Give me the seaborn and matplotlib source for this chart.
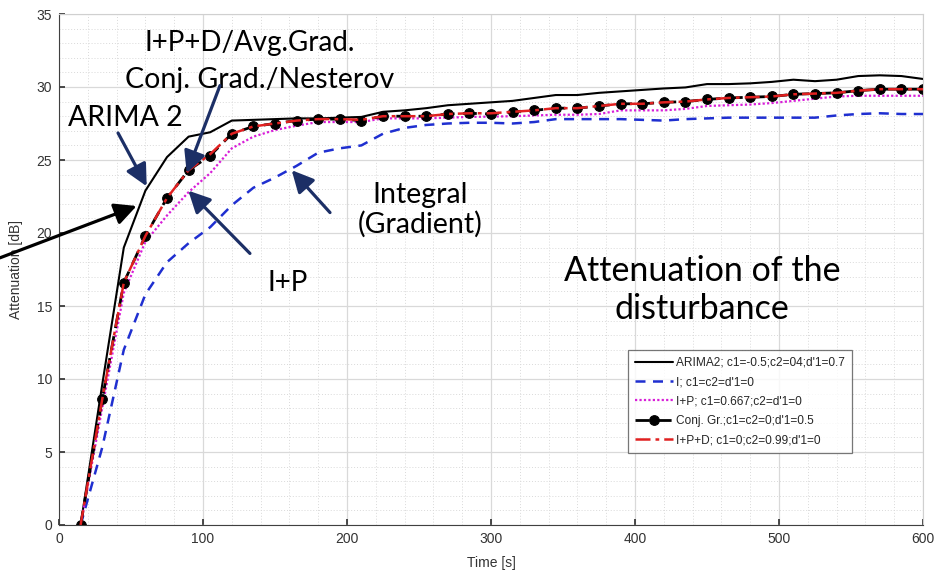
import numpy as np
import pandas as pd
import matplotlib
matplotlib.use("Agg")
import matplotlib.pyplot as plt
import seaborn as sns
from matplotlib.ticker import MultipleLocator

# ---- data ----
time_s = list(range(15, 601, 15))

arima2 = [0, 9.6, 19.0, 22.9, 25.2, 26.6, 26.9, 27.7, 27.75, 27.8,
          27.85, 27.85, 27.9, 27.95, 28.3, 28.4, 28.55, 28.75, 28.85, 28.95,
          29.05, 29.25, 29.45, 29.45, 29.6, 29.7, 29.8, 29.9, 29.97, 30.2,
          30.2, 30.25, 30.35, 30.5, 30.4, 30.5, 30.75, 30.8, 30.75, 30.55]

integral = [0, 5.3, 12.0, 15.8, 18.0, 19.3, 20.4, 21.9, 23.1, 23.8,
            24.6, 25.5, 25.8, 26.0, 26.8, 27.2, 27.4, 27.5, 27.55, 27.55,
            27.5, 27.6, 27.8, 27.8, 27.8, 27.8, 27.75, 27.7, 27.8, 27.85,
            27.9, 27.9, 27.9, 27.9, 27.9, 28.05, 28.15, 28.2, 28.15, 28.15]

ip = [0, 8.0, 15.9, 19.4, 21.2, 22.8, 24.1, 25.8, 26.6, 27.05,
      27.35, 27.6, 27.6, 27.6, 27.85, 27.85, 27.85, 27.9, 27.95, 27.97,
      28.0, 28.05, 28.1, 28.1, 28.15, 28.4, 28.4, 28.4, 28.5, 28.7,
      28.75, 28.8, 28.9, 29.05, 29.2, 29.35, 29.4, 29.4, 29.4, 29.4]

conj_gr = [0, 8.6, 16.6, 19.8, 22.4, 24.3, 25.3, 26.8, 27.3, 27.5,
           27.7, 27.8, 27.8, 27.7, 28.0, 28.0, 28.0, 28.15, 28.2, 28.15,
           28.3, 28.4, 28.55, 28.55, 28.7, 28.85, 28.85, 28.95, 29.0, 29.15,
           29.25, 29.3, 29.35, 29.5, 29.55, 29.6, 29.75, 29.85, 29.85, 29.85]

ipd = [0, 8.6, 16.6, 19.8, 22.4, 24.3, 25.4, 26.8, 27.3, 27.5,
       27.7, 27.8, 27.8, 27.75, 28.0, 28.0, 28.0, 28.15, 28.2, 28.2,
       28.3, 28.4, 28.55, 28.55, 28.7, 28.85, 28.85, 28.95, 29.0, 29.15,
       29.25, 29.3, 29.35, 29.5, 29.55, 29.6, 29.75, 29.85, 29.85, 29.85]

labels = ["ARIMA2; c1=-0.5;c2=04;d'1=0.7",
          "I; c1=c2=d'1=0",
          "I+P; c1=0.667;c2=d'1=0",
          "Conj. Gr.;c1=c2=0;d'1=0.5",
          "I+P+D; c1=0;c2=0.99;d'1=0"]

x_ticks = [0, 100, 200, 300, 400, 500, 600]
y_ticks = [0, 5, 10, 15, 20, 25, 30, 35]

# ---- figure ----
sns.set_theme(style="white")
plt.rcParams['font.family'] = ['Liberation Sans', 'DejaVu Sans']

fig = plt.figure(figsize=(9.43, 5.76), dpi=100)
ax = fig.add_axes([59/943, 1-525/576, 864/943, 511/576])

sns.lineplot(x=time_s, y=arima2, ax=ax, color="black", linewidth=1.5,
             linestyle="-", label=labels[0])
sns.lineplot(x=time_s, y=integral, ax=ax, color="#1f2fd0", linewidth=1.8,
             linestyle=(0, (4, 3)), label=labels[1])
sns.lineplot(x=time_s, y=ip, ax=ax, color="#d81ed8", linewidth=1.6,
             linestyle=(0, (1, 1)), label=labels[2])
sns.lineplot(x=time_s, y=conj_gr, ax=ax, color="black", linewidth=2.0,
             linestyle=(0, (5, 3)), marker="o", markersize=7,
             markeredgecolor="black", label=labels[3])
sns.lineplot(x=time_s, y=ipd, ax=ax, color="#e02020", linewidth=1.8,
             linestyle=(0, (6, 2, 1.5, 2)), label=labels[4])

ax.set_xlim(0, 600)
ax.set_ylim(0, 35)
ax.set_xticks(x_ticks)
ax.set_yticks(y_ticks)
ax.xaxis.set_minor_locator(MultipleLocator(20))
ax.yaxis.set_minor_locator(MultipleLocator(1))
ax.grid(True, which="major", color="#d9d9d9", linewidth=0.9, linestyle="-")
ax.grid(True, which="minor", color="#d9d9d9", linewidth=0.7, linestyle=(0, (1, 2)))
ax.set_axisbelow(True)
for s in ax.spines.values():
    s.set_color("#d0d0d0")
    s.set_linewidth(0.8)
ax.spines["left"].set_color("#404040")
ax.spines["bottom"].set_color("#404040")
ax.tick_params(axis="both", which="major", labelsize=10, colors="#333333",
               length=4, direction="in", left=True, bottom=True, pad=5)
ax.tick_params(axis="both", which="minor", length=0)
ax.set_xlabel("Time [s]", fontsize=10, color="#333333", labelpad=7)
ax.set_ylabel("Attenuation [dB]", fontsize=10, color="#333333", labelpad=10)

leg = ax.legend(loc="lower left", bbox_to_anchor=(0.6586, 0.141), fontsize=8.6,
                frameon=True, fancybox=False, edgecolor="#555555",
                handlelength=3.2, borderpad=0.55, labelspacing=0.62,
                handletextpad=0.3, borderaxespad=0)
leg.get_frame().set_linewidth(0.9)

# ---- annotations ----
afont = ['Lato', 'DejaVu Sans']
navy = "#1c2f66"
ax.text(132.6, 33.0, "I+P+D/Avg.Grad.", fontsize=20, family=afont,
        ha="center", va="center", color="black")
ax.text(139.6, 30.5, "Conj. Grad./Nesterov", fontsize=20.5, family=afont,
        ha="center", va="center", color="black")
ax.text(45.8, 27.9, "ARIMA 2", fontsize=20.5, family=afont,
        ha="center", va="center", color="black")
ax.text(250.7, 21.6, "Integral\n(Gradient)", fontsize=20.5, family=afont,
        ha="center", va="center", color="black", linespacing=1.15)
ax.text(159, 16.6, "I+P", fontsize=20, family=afont,
        ha="center", va="center", color="black")
ax.text(446.5, 16.1, "Attenuation of the\ndisturbance", fontsize=24.5, family=afont,
        ha="center", va="center", color="black", linespacing=1.2)

arrow_kw = dict(arrowstyle="-|>,head_length=1.1,head_width=0.55",
                lw=2.3, color=navy, shrinkA=0, shrinkB=0)
ax.annotate("", xy=(60.9, 23.2), xytext=(41, 26.85), arrowprops=arrow_kw)
ax.annotate("", xy=(88.7, 24.1), xytext=(111.8, 30.1), arrowprops=arrow_kw)
ax.annotate("", xy=(89.8, 22.9), xytext=(132.6, 18.6), arrowprops=arrow_kw)
ax.annotate("", xy=(161.6, 24.3), xytext=(188.2, 21.4), arrowprops=arrow_kw)
arrow_k2 = dict(arrow_kw, color="black")
ax.annotate("", xy=(53.9, 21.85), xytext=(-41, 18.3), arrowprops=arrow_k2,
            annotation_clip=False)

fig.savefig("out.png", dpi=100)
